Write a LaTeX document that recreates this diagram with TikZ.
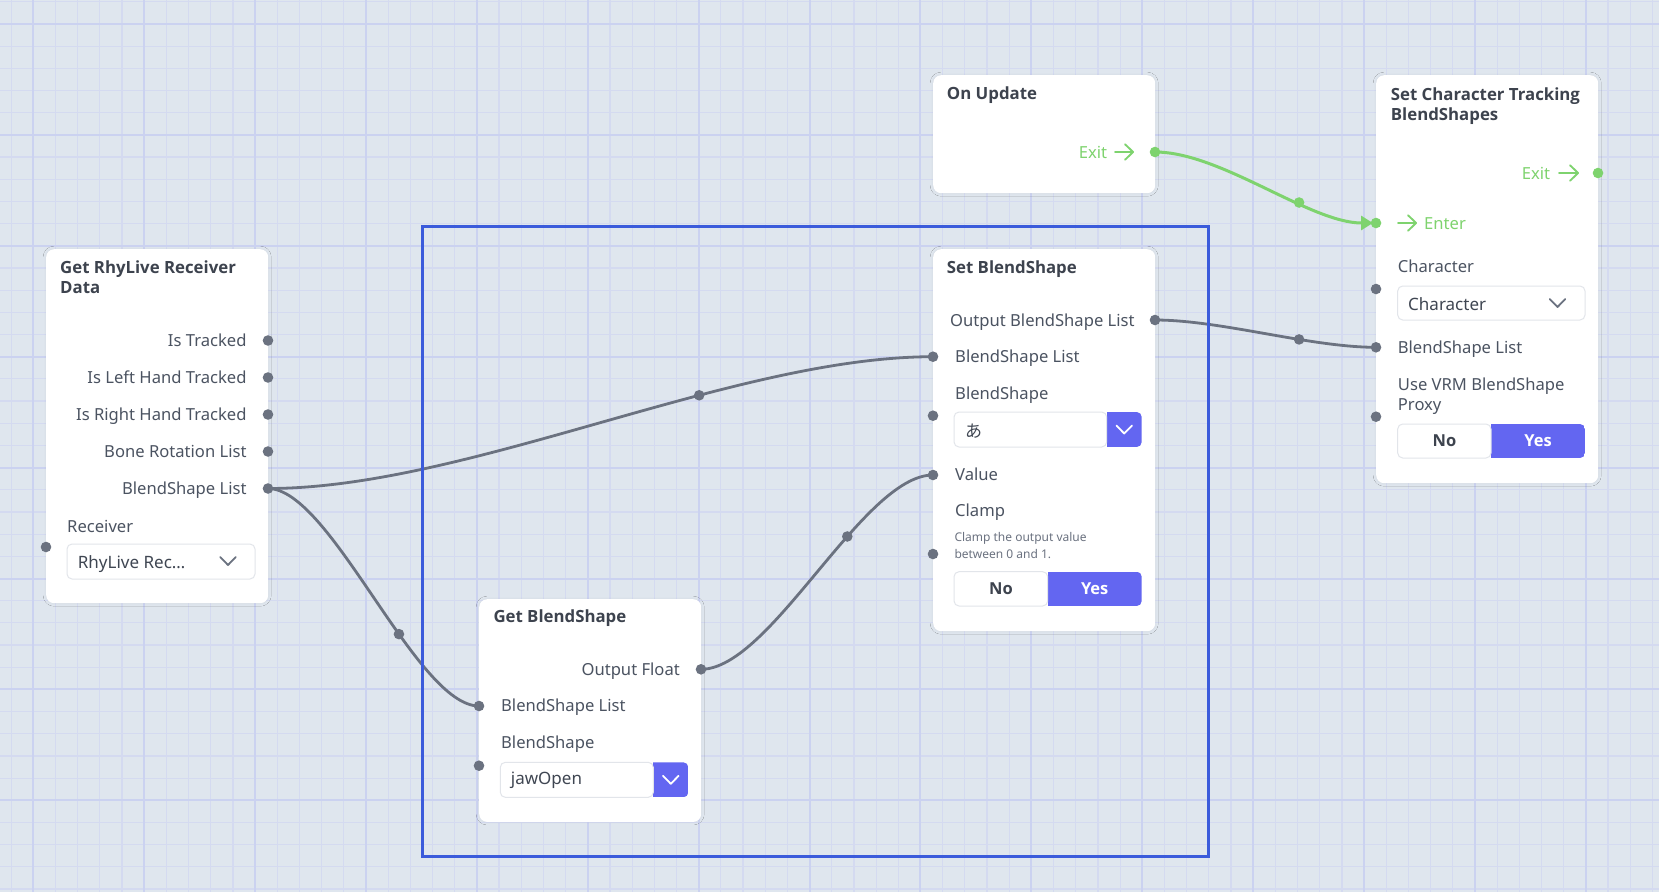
\documentclass[tikz,border=0pt]{standalone}
\usepackage{fontspec}
\setmainfont{Noto Sans}
\newfontfamily\headfont{Open Sans}[BoldFont={* Bold}]
\newfontfamily\cjkfont{Noto Sans CJK JP}
\usetikzlibrary{arrows.meta,shadows.blur}

\definecolor{canvasbg}{HTML}{DFE6EE}
\definecolor{gridminor}{HTML}{D4DAF0}
\definecolor{gridmajor}{HTML}{CBD2F0}
\definecolor{cardtitle}{HTML}{3D434E}
\definecolor{labelc}{HTML}{4B5361}
\definecolor{fieldtext}{HTML}{3F4652}
\definecolor{hintc}{HTML}{6B7280}
\definecolor{portc}{HTML}{6B7280}
\definecolor{flowc}{HTML}{7ED36E}
\definecolor{accent}{HTML}{6366F1}
\definecolor{framec}{HTML}{3B5BDB}
\definecolor{fieldline}{HTML}{E2E5EA}

\tikzset{
  card/.style={fill=white, rounded corners=8pt, anchor=north west, inner sep=0pt,
    minimum width=222pt,
    blur shadow={shadow xshift=0pt, shadow yshift=0pt, shadow blur radius=3pt,
      shadow blur steps=8, shadow opacity=6}},
  title/.style={anchor=base west, inner sep=0pt, text=cardtitle,
    font=\headfont\fontsize{16.8}{20}\selectfont\bfseries},
  lbl/.style={anchor=base west, inner sep=0pt, text=labelc,
    font=\fontsize{16.6}{20}\selectfont},
  lblr/.style={lbl, anchor=base east},
  flowlbl/.style={lbl, text=flowc},
  hint/.style={anchor=base west, inner sep=0pt, text=hintc,
    font=\fontsize{12}{14}\selectfont},
  fieldval/.style={anchor=base west, inner sep=0pt, text=fieldtext,
    font=\fontsize{17}{20}\selectfont},
  togno/.style={inner sep=0pt, text=cardtitle,
    font=\headfont\fontsize{16.5}{20}\selectfont\bfseries},
  togyes/.style={togno, text=white},
  port/.style={circle, fill=portc, minimum size=10.6pt, inner sep=0pt},
  flowport/.style={port, fill=flowc},
  wire/.style={draw=portc, line width=2.8pt},
  flowwire/.style={draw=flowc, line width=3pt},
  groupframe/.style={draw=framec, line width=3pt, anchor=north west, inner sep=0pt,
    outer sep=0pt},
}

% plain select box
\newcommand\plainfield[4]{%
  \draw[fieldline, fill=white, line width=1pt, rounded corners=5pt] (#1,#2) rectangle (#3,#4);}
% select box or toggle whose right part (from #5) is filled with the accent colour
\newcommand\accentfield[5]{%
  \begin{scope}
    \clip[rounded corners=5pt] (#1,#2) rectangle (#3,#4);
    \fill[white] (#1,#2) rectangle (#5,#4);
    \fill[accent] (#5,#2) rectangle (#3,#4);
  \end{scope}
  \draw[fieldline, line width=1pt, rounded corners=5pt] (#1,#2) rectangle (#5,#4);}
% chevron of a select box
\newcommand\chevron[3]{%
  \draw[#3, line width=1.8pt, line cap=round, line join=round]
    ({#1-7.8},{#2-4}) -- (#1,{#2+4}) -- ({#1+7.8},{#2-4});}
% arrow icon next to Exit / Enter
\newcommand\flowicon[3]{%
  \draw[flowc, line width=1.9pt, line cap=round, line join=round]
    (#1,#3) -- (#2,#3) ({#2-8},{#3-7.8}) -- (#2,#3) -- ({#2-8},{#3+7.8});}

\begin{document}
\begin{tikzpicture}[x=1pt, y=-1pt]
\useasboundingbox (0,0) rectangle (1659,892);

% ---------- canvas grid ----------
\fill[canvasbg] (0,0) rectangle (1659,892);
\foreach \i in {0,...,74} \draw[gridminor, line width=1.2pt] ({11.1+22.18*\i},0) -- ++(0,892);
\foreach \j in {0,...,40} \draw[gridminor, line width=1.2pt] (0,{1.82+22.18*\j}) -- ++(1659,0);
\foreach \i in {0,...,14} \draw[gridmajor, line width=2pt] ({33.28+110.9*\i},0) -- ++(0,892);
\foreach \j in {0,...,7} \draw[gridmajor, line width=2pt] (0,{24+110.9*\j}) -- ++(1659,0);

% ---------- cards ----------
\node[card, minimum height=354pt] (recv) at (46,249) {};
\node[card, minimum height=118pt] (update) at (933,75) {};
\node[card, minimum height=408pt] (setchar) at (1376,75) {};
\node[card, minimum height=382pt] (setbs) at (933,249) {};
\node[card, minimum height=222.7pt] (getbs) at (479,599) {};

% ---------- Get RhyLive Receiver Data ----------
\node[title] (recv-t1) at (60,273) {Get RhyLive Receiver};
\node[title] (recv-t2) at (60,293.5) {Data};
\node[lblr] (recv-l1) at (246.7,346) {Is Tracked};
\node[lblr] (recv-l2) at (246.7,383) {Is Left Hand Tracked};
\node[lblr] (recv-l3) at (246.7,420) {Is Right Hand Tracked};
\node[lblr] (recv-l4) at (246.7,457) {Bone Rotation List};
\node[lblr] (recv-l5) at (246.7,494) {BlendShape List};
\node[lbl] (recv-l6) at (67,532) {Receiver};
\plainfield{67}{544}{255}{579}
\node[fieldval] (recv-v) at (77.7,568) {RhyLive Rec…};
\chevron{228}{561}{portc}

% ---------- On Update ----------
\node[title] (update-t) at (946.7,99) {On Update};
\node[flowlbl] (update-l) at (1078.7,158) {Exit};
\flowicon{1115}{1133}{152}

% ---------- Set Character Tracking BlendShapes ----------
\node[title] (setchar-t1) at (1390.7,100) {Set Character Tracking};
\node[title] (setchar-t2) at (1390.7,120.5) {BlendShapes};
\node[flowlbl] (setchar-lx) at (1521.7,179) {Exit};
\flowicon{1559}{1578}{173}
\flowicon{1398}{1416}{223}
\node[flowlbl] (setchar-le) at (1424,229) {Enter};
\node[lbl] (setchar-l1) at (1397.7,272) {Character};
\plainfield{1397.7}{286}{1585}{320}
\node[fieldval] (setchar-v) at (1408,310) {Character};
\chevron{1557.5}{303}{portc}
\node[lbl] (setchar-l2) at (1397.7,353) {BlendShape List};
\node[lbl] (setchar-l3) at (1397.7,390) {Use VRM BlendShape};
\node[lbl] (setchar-l4) at (1397.7,410) {Proxy};
\accentfield{1397.7}{424}{1585}{458}{1491}
\node[togno] (setchar-no) at (1444.4,441) {No};
\node[togyes] (setchar-yes) at (1538,441) {Yes};

% ---------- Set BlendShape ----------
\node[title] (setbs-t) at (946.7,273) {Set BlendShape};
\node[lbl] (setbs-l1) at (950,326.7) {Output BlendShape List};
\node[lbl] (setbs-l2) at (955,362.7) {BlendShape List};
\node[lbl] (setbs-l3) at (955,399) {BlendShape};
\accentfield{954}{412}{1141.7}{447}{1106.7}
\node[fieldval] (setbs-v) at (965,437) {\cjkfont あ};
\chevron{1124.2}{429.5}{white}
\node[lbl] (setbs-l4) at (955,480.7) {Value};
\node[lbl] (setbs-l5) at (955,516.7) {Clamp};
\node[hint] (setbs-h1) at (954.3,541.7) {Clamp the output value};
\node[hint] (setbs-h2) at (954.3,558.3) {between 0 and 1.};
\accentfield{954}{571.7}{1141.7}{606}{1047.7}
\node[togno] (setbs-no) at (1000.9,589) {No};
\node[togyes] (setbs-yes) at (1094.7,589) {Yes};

% ---------- Get BlendShape ----------
\node[title] (getbs-t) at (493.3,622.7) {Get BlendShape};
\node[lblr] (getbs-l1) at (680,675) {Output Float};
\node[lbl] (getbs-l2) at (501,711.7) {BlendShape List};
\node[lbl] (getbs-l3) at (501,748.3) {BlendShape};
\accentfield{500.3}{762.3}{688.3}{797.3}{653.3}
\node[fieldval] (getbs-v) at (510.7,784) {jawOpen};
\chevron{670.8}{779.8}{white}

% ---------- ports ----------
\coordinate (recv-p1) at (268,340.5);
\coordinate (recv-p2) at (268,377.5);
\coordinate (recv-p3) at (268,414.5);
\coordinate (recv-p4) at (268,451.5);
\coordinate (recv-bsl) at (268,488.5);
\coordinate (recv-in) at (46,547);
\coordinate (update-exit) at (1155,152);
\coordinate (setchar-exit) at (1598,173);
\coordinate (setchar-enter) at (1376,223);
\coordinate (setchar-char) at (1376,289);
\coordinate (setchar-bsl) at (1376,347.3);
\coordinate (setchar-proxy) at (1376,416.7);
\coordinate (setbs-out) at (1155,320);
\coordinate (setbs-bsl) at (933,356.7);
\coordinate (setbs-bs) at (933,415.7);
\coordinate (setbs-value) at (933,475);
\coordinate (setbs-clamp) at (933,554);
\coordinate (getbs-out) at (701,669.3);
\coordinate (getbs-bsl) at (479,706);
\coordinate (getbs-bs) at (479,765.7);

% ---------- connectors ----------
\draw[flowwire, -{Triangle[length=12pt,width=14pt]}, shorten >=3pt]
  (update-exit) .. controls +(66,0) and +(-66,0) .. (setchar-enter)
  node[pos=0.645, flowport] (w1-mid) {};
\draw[wire] (setbs-out) .. controls +(66,0) and +(-66,0) .. (setchar-bsl)
  node[pos=0.645, port] (w2-mid) {};
\draw[wire] (recv-bsl) .. controls +(200,0) and +(-200,0) .. (setbs-bsl)
  node[pos=0.642, port] (w3-mid) {};
\draw[wire] (recv-bsl) .. controls +(63,0) and +(-63,0) .. (getbs-bsl)
  node[pos=0.615, port] (w4-mid) {};
\draw[wire] (getbs-out) .. controls +(70,0) and +(-70,0) .. (setbs-value)
  node[pos=0.625, port] (w5-mid) {};

% ---------- port dots ----------
\foreach \p in {recv-p1,recv-p2,recv-p3,recv-p4,recv-bsl,recv-in,setchar-char,
  setchar-bsl,setchar-proxy,setbs-out,setbs-bsl,setbs-bs,setbs-value,setbs-clamp,
  getbs-out,getbs-bsl,getbs-bs}
  \node[port] (\p-dot) at (\p) {};
\foreach \p in {update-exit,setchar-exit,setchar-enter}
  \node[flowport] (\p-dot) at (\p) {};

% ---------- group frame ----------
\node[groupframe, minimum width=786pt, minimum height=629.6pt] (group) at (422.3,226.7) {};

\end{tikzpicture}
\end{document}
